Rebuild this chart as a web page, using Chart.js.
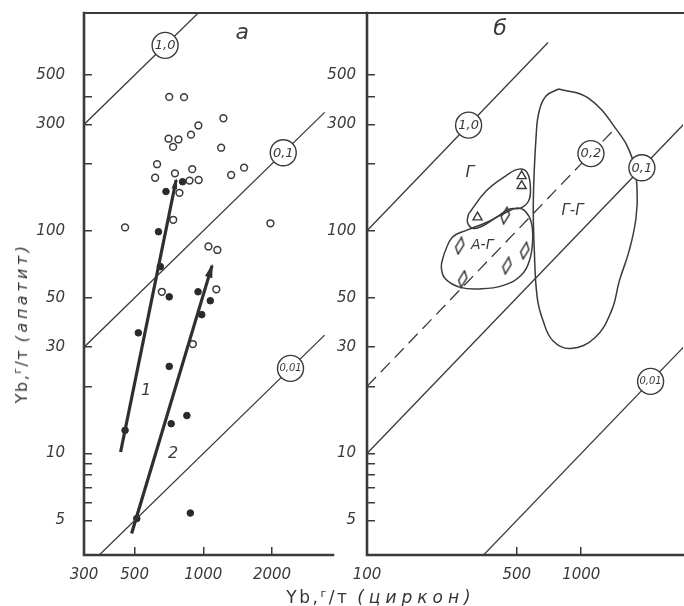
<!DOCTYPE html>
<html>
<head>
<meta charset="utf-8">
<script src="https://cdn.jsdelivr.net/npm/chart.js@4/dist/chart.umd.min.js"></script>
<style>
  html, body { margin: 0; padding: 0; background: #fff; }
  #wrap { position: relative; width: 684px; height: 606px; overflow: hidden; background: #fff; }
  canvas { position: absolute; top: 0; }
  #cL { left: 0; }
  #cR { left: 320px; }
  .ttl { position: absolute; font-family: 'DejaVu Sans', sans-serif; color: #353535; font-size: 16px; white-space: nowrap; letter-spacing: 1.5px; }
  .ttl i { letter-spacing: 3.5px; }
  .ttl.wide { font-size: 17px; letter-spacing: 2.5px; }
  .ttl.wide i { letter-spacing: 5px; }
  .ttl .g { font-size: 11px; vertical-align: 6px; }
</style>
</head>
<body>
<div id="wrap">
  <canvas id="cL" width="340" height="606"></canvas>
  <canvas id="cR" width="370" height="606"></canvas>
  <div class="ttl wide" style="left:381px; top:597px; transform: translate(-50%,-50%);">Yb,<span class="g">г</span>/т <i>(циркон)</i></div>
  <div class="ttl" style="left:21px; top:323px; transform: translate(-50%,-50%) rotate(-90deg);">Yb,<span class="g">г</span>/т <i>(апатит)</i></div>
</div>
<script>
// ---- Panel "а": Yb in zircon (x) vs Yb in apatite (y), г/т ----
const openZircon   = [709, 823, 1224, 951, 883, 704, 778, 737, 1197, 627, 615, 751, 894, 870, 954, 786, 1324, 1509, 454, 738, 1968, 1053, 1152, 658, 1140, 900];
const openApatite  = [399, 398, 320, 297, 270, 259, 257, 238, 236, 199, 173, 181, 189, 168, 169, 148, 178, 192, 103.5, 112, 108, 85, 82, 53.2, 54.6, 31];
const solidZircon  = [686, 811, 636, 648, 709, 948, 519, 709, 1073, 984, 847, 723, 454, 877, 511];
const solidApatite = [150, 166, 99, 69, 50.5, 53.2, 34.8, 24.6, 48.5, 42, 14.8, 13.6, 12.7, 5.4, 5.1];
const trend1Zircon  = [434, 760];
const trend1Apatite = [10.15, 169];
const trend2Zircon  = [485, 1092];
const trend2Apatite = [4.37, 69.7];

// ---- Panel "б" ----
const triZircon  = [527, 527, 328];
const triApatite = [176, 159, 115];
const diaZircon  = [442, 271, 545, 450, 280];
const diaApatite = [117, 85.6, 81.4, 69.7, 60.7];
// field outlines (Г-Г, Г, А-Г)
const ggZircon  = [785, 1076, 1476, 1728, 1821, 1802, 1674, 1507, 1385, 1158, 891, 737, 663, 623, 604, 597.5, 616.6, 636.5, 684.8];
const ggApatite = [433, 394.6, 280.7, 212.4, 155.8, 114.4, 81.4, 59.7, 43.8, 33.1, 29.6, 32.1, 39.5, 50.1, 81.4, 136.3, 272.2, 345.1, 402.8];
const gZircon   = [297.5, 360.6, 444.9, 511.8, 559.1, 578.9, 568.6, 521.2, 460.7, 400.6, 348.3, 313.6, 294.4];
const gApatite  = [118.8, 151.1, 176.5, 189.1, 182.5, 156.4, 136.3, 126.4, 125.1, 114.7, 105.3, 102.4, 109];
const agZircon  = [228.8, 249.6, 292.3, 360.6, 444.9, 503.2, 549.3, 584.9, 593, 572.8, 521.2, 429.9, 336.1, 272.4, 232.6, 222.3];
const agApatite = [78.6, 93.3, 100.7, 108.9, 120.8, 126.4, 122.0, 108.9, 90.2, 73.4, 62.8, 56.7, 54.8, 55.7, 60.7, 68.5];

// constant apatite/zircon ratio lines
const ratiosA = [1, 0.1, 0.01];
const ratioFromA = [300, 300, 300];
const ratioToA   = [1000, 3400, 3400];
const ratiosB = [1, 0.1, 0.01];
const ratioFromB = [100, 100, 300];
const ratioToB   = [700, 3000, 3000];
const dashRatio = 0.2, dashFrom = 100, dashTo = 1450;

// axis ticks
const yTicks  = [5, 6, 7, 8, 9, 10, 20, 30, 50, 100, 200, 300, 400, 500];
const yLabels = [5, 10, 30, 50, 100, 300, 500];
const xTicksA = [300, 500, 1000, 2000];
const xTicksB = [100, 500, 1000];

const INK = '#3a3a3a';
Chart.defaults.font.family = "'DejaVu Sans', sans-serif";
Chart.defaults.animation = false;

const zip = (xs, ys) => xs.map((x, i) => ({ x, y: ys[i] }));
const closed = (xs, ys) => { const p = zip(xs, ys); p.push({ ...p[0] }); return p; };
const ratioLine = (r, a, b) => [{ x: a, y: r * a }, { x: b, y: r * b }];

function diamondCanvas() {
  const c = document.createElement('canvas');
  c.width = 11; c.height = 19;
  const g = c.getContext('2d');
  g.beginPath();
  g.moveTo(7.2, 1.2); g.lineTo(9.6, 8.4); g.lineTo(3.8, 17.8); g.lineTo(1.4, 10.6); g.closePath();
  g.fillStyle = '#fff'; g.fill();
  g.lineWidth = 1.4; g.strokeStyle = '#2e2e2e'; g.stroke();
  return c;
}
const diamond = diamondCanvas();

const tickFont = { family: "'DejaVu Sans', sans-serif", style: 'italic', size: 15 };
const noPad = s => { s.paddingTop = 0; s.paddingBottom = 0; s.paddingLeft = 0; s.paddingRight = 0; };

function yScale(pad, width) {
  return {
    type: 'logarithmic', min: 3.5, max: 950,
    afterBuildTicks: s => { s.ticks = yTicks.map(v => ({ value: v })); },
    afterFit: s => { s.width = width; noPad(s); },
    ticks: { autoSkip: false, maxRotation: 0, padding: pad, color: INK, font: tickFont,
             callback: v => yLabels.includes(v) ? String(v) : '' },
    grid: { display: true, drawOnChartArea: false, drawTicks: true, tickLength: -8, color: INK, lineWidth: 1.5 },
    border: { display: false }
  };
}
function xScale(min, max, ticks) {
  return {
    type: 'logarithmic', min, max, position: 'bottom',
    afterBuildTicks: s => { s.ticks = ticks.map(v => ({ value: v })); },
    afterFit: s => { s.height = 51; noPad(s); },
    ticks: { autoSkip: false, maxRotation: 0, padding: 19, color: INK, font: tickFont,
             callback: v => ticks.includes(v) ? String(v) : '' },
    grid: { display: true, drawOnChartArea: false, drawTicks: true, tickLength: -8, color: INK, lineWidth: 1.5 },
    border: { display: false }
  };
}

// frame: left and bottom axis lines plus a top rule running across the figure
function framePlugin(bottomToRight, topFromCanvasLeft) {
  return {
    id: 'frame',
    beforeDatasetsDraw(chart) {
      const { ctx, chartArea: a, width } = chart;
      ctx.save();
      ctx.strokeStyle = INK; ctx.lineCap = 'square';
      ctx.lineWidth = 2.6;
      ctx.beginPath();
      ctx.moveTo(a.left, a.top); ctx.lineTo(a.left, a.bottom);
      ctx.lineTo(bottomToRight ? width : a.right, a.bottom);
      ctx.stroke();
      ctx.lineWidth = 2;
      ctx.beginPath();
      ctx.moveTo(topFromCanvasLeft ? 0 : a.left, a.top); ctx.lineTo(width, a.top);
      ctx.stroke();
      ctx.restore();
    }
  };
}

// arrowheads at the end of the trend lines
const arrowPlugin = {
  id: 'arrows',
  afterDatasetsDraw(chart) {
    const ctx = chart.ctx;
    chart.data.datasets.forEach((ds, i) => {
      if (!ds.arrow) return;
      const pts = chart.getDatasetMeta(i).data;
      const a = pts[pts.length - 2], b = pts[pts.length - 1];
      const ang = Math.atan2(b.y - a.y, b.x - a.x);
      const L = ds.arrow, W = ds.arrow * 0.32;
      const bx = b.x - L * Math.cos(ang), by = b.y - L * Math.sin(ang);
      ctx.save();
      ctx.fillStyle = ds.borderColor;
      ctx.beginPath();
      ctx.moveTo(b.x + 2 * Math.cos(ang), b.y + 2 * Math.sin(ang));
      ctx.lineTo(bx + W * Math.sin(ang), by - W * Math.cos(ang));
      ctx.lineTo(bx - W * Math.sin(ang), by + W * Math.cos(ang));
      ctx.closePath(); ctx.fill();
      ctx.restore();
    });
  }
};

// circled ratio values sitting on their lines, and free text labels
function notesPlugin(circles, texts) {
  return {
    id: 'notes',
    afterDatasetsDraw(chart) {
      const { ctx, scales: { x, y } } = chart;
      ctx.save();
      circles.forEach(c => {
        const px = x.getPixelForValue(c.at), py = y.getPixelForValue(c.ratio * c.at);
        ctx.beginPath(); ctx.arc(px, py, 13, 0, Math.PI * 2);
        ctx.fillStyle = '#fff'; ctx.fill();
        ctx.lineWidth = 1.4; ctx.strokeStyle = INK; ctx.stroke();
        ctx.fillStyle = INK;
        ctx.font = `italic ${c.size}px 'DejaVu Sans', sans-serif`;
        ctx.textAlign = 'center'; ctx.textBaseline = 'middle';
        ctx.fillText(c.text, px, py + 0.5);
      });
      texts.forEach(t => {
        ctx.fillStyle = INK;
        ctx.font = `italic ${t.size}px 'DejaVu Sans', sans-serif`;
        ctx.textAlign = 'center'; ctx.textBaseline = 'middle';
        ctx.fillText(t.text, x.getPixelForValue(t.x), y.getPixelForValue(t.y));
      });
      ctx.restore();
    }
  };
}

const thin = { type: 'line', borderColor: INK, borderWidth: 1.3, pointRadius: 0, fill: false, tension: 0 };

// ---- panel а ----
const dsA = [];
ratiosA.forEach((r, i) => dsA.push({ ...thin, data: ratioLine(r, ratioFromA[i], ratioToA[i]) }));
dsA.push({ type: 'line', data: zip(trend1Zircon, trend1Apatite), borderColor: '#2f2f2f', borderWidth: 3.2, pointRadius: 0, arrow: 9 });
dsA.push({ type: 'line', data: zip(trend2Zircon, trend2Apatite), borderColor: '#2f2f2f', borderWidth: 3.2, pointRadius: 0, arrow: 12 });
dsA.push({ type: 'scatter', data: zip(openZircon, openApatite), pointStyle: 'circle', pointRadius: 3.4,
           borderColor: INK, borderWidth: 1.5, backgroundColor: '#fff' });
dsA.push({ type: 'scatter', data: zip(solidZircon, solidApatite), pointStyle: 'circle', pointRadius: 3.3,
           borderColor: '#2a2a2a', borderWidth: 1, backgroundColor: '#2a2a2a' });

new Chart(document.getElementById('cL'), {
  type: 'scatter',
  data: { datasets: dsA },
  options: {
    responsive: false,
    layout: { padding: { top: 13, right: 7, left: 0, bottom: 0 } },
    plugins: { legend: { display: false }, tooltip: { enabled: false } },
    scales: { x: xScale(300, 3700, xTicksA), y: yScale(27, 84) }
  },
  plugins: [framePlugin(false, false), arrowPlugin, notesPlugin(
    [ { text: '1,0', ratio: 1, at: 680, size: 13 },
      { text: '0,1', ratio: 0.1, at: 2240, size: 13 },
      { text: '0,01', ratio: 0.01, at: 2410, size: 10 } ],
    [ { text: 'а', x: 1479, y: 770, size: 22 },
      { text: '1', x: 561, y: 19.2, size: 16 },
      { text: '2', x: 737, y: 10.0, size: 16 } ])]
});

// ---- panel б ----
const dsB = [];
ratiosB.forEach((r, i) => dsB.push({ ...thin, data: ratioLine(r, ratioFromB[i], ratioToB[i]) }));
dsB.push({ ...thin, data: ratioLine(dashRatio, dashFrom, dashTo), borderDash: [13, 7] });
dsB.push({ ...thin, borderWidth: 1.5, tension: 0.42, data: closed(ggZircon, ggApatite) });
dsB.push({ ...thin, borderWidth: 1.5, tension: 0.42, data: closed(gZircon, gApatite) });
dsB.push({ ...thin, borderWidth: 1.5, tension: 0.42, data: closed(agZircon, agApatite) });
dsB.push({ type: 'scatter', data: zip(triZircon, triApatite), pointStyle: 'triangle', pointRadius: 5.2,
           borderColor: INK, borderWidth: 1.4, backgroundColor: '#fff' });
dsB.push({ type: 'scatter', data: zip(diaZircon, diaApatite), pointStyle: diamond, pointRadius: 6 });

new Chart(document.getElementById('cR'), {
  type: 'scatter',
  data: { datasets: dsB },
  options: {
    responsive: false,
    layout: { padding: { top: 13, right: 0, left: 0, bottom: 0 } },
    plugins: { legend: { display: false }, tooltip: { enabled: false } },
    scales: { x: xScale(100, 2985, xTicksB), y: yScale(19, 47) }
  },
  plugins: [framePlugin(true, true), notesPlugin(
    [ { text: '1,0', ratio: 1, at: 298, size: 13 },
      { text: '0,2', ratio: 0.2, at: 1110, size: 13 },
      { text: '0,1', ratio: 0.1, at: 1919, size: 13 },
      { text: '0,01', ratio: 0.01, at: 2107, size: 10 } ],
    [ { text: 'б', x: 418, y: 800, size: 22 },
      { text: 'Г', x: 302, y: 182, size: 16 },
      { text: 'Г-Г', x: 910, y: 123, size: 15 },
      { text: 'А-Г', x: 345, y: 85.7, size: 14 } ])]
});
</script>
</body>
</html>
